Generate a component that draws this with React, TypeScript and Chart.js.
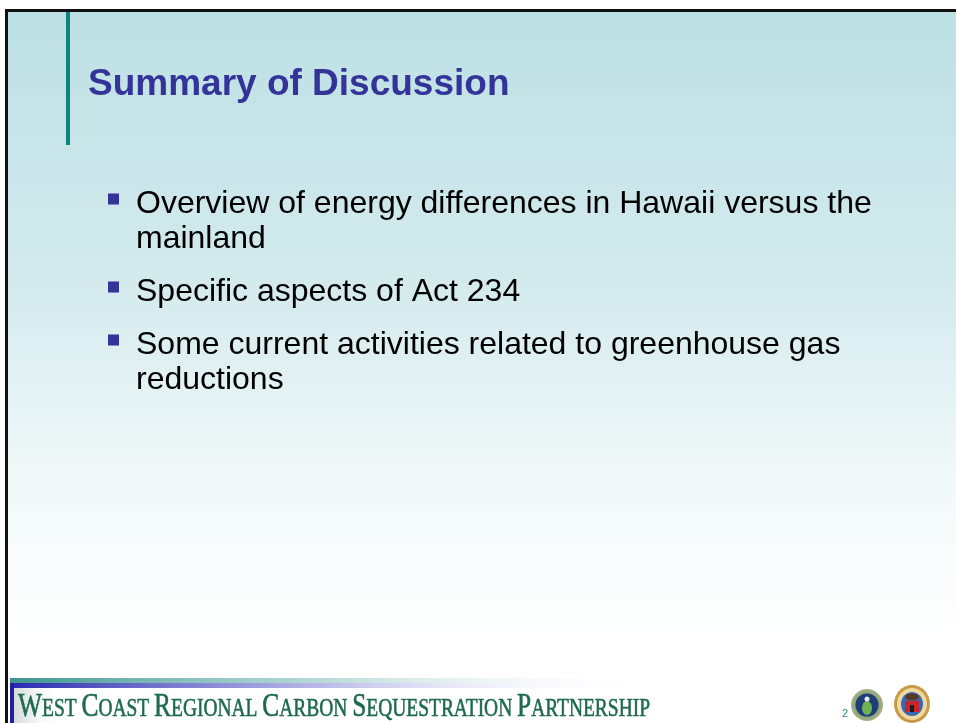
import React, { useEffect, useRef } from "react";
import { Chart, registerables } from "chart.js";

Chart.register(...registerables);

const W = 956;
const H = 723;

// ---- content ----
const titleText = "Summary of Discussion";
const bulletParagraphs: string[][] = [
  ["Overview of energy differences in Hawaii versus the", "mainland"],
  ["Specific aspects of Act 234"],
  ["Some current activities related to greenhouse gas", "reductions"],
];
const footerWords = ["West", "Coast", "Regional", "Carbon", "Sequestration", "Partnership"];
const pageLabel = "2";

// ---- layout (slide units = pixels of the 956x723 slide) ----
const FIRST_BASELINE = 213;
const LINE_GAP = 35;
const PARA_GAP = 53;
const TEXT_X = 136;
const BULLET_X = 113.5;
const BULLET_OFFSET = 14;

type Line = { text: string; y: number; first: boolean };
function buildLines(): Line[] {
  const out: Line[] = [];
  let y = FIRST_BASELINE;
  bulletParagraphs.forEach((p, pi) => {
    if (pi > 0) y += PARA_GAP;
    p.forEach((t, li) => {
      if (li > 0) y += LINE_GAP;
      out.push({ text: t, y, first: li === 0 });
    });
  });
  return out;
}

function drawSmallCaps(
  ctx: CanvasRenderingContext2D,
  words: string[],
  x: number,
  baseline: number,
  targetWidth: number,
  big: number,
  small: number
) {
  const fam = '"Liberation Serif", "Times New Roman", serif';
  const segs: { t: string; size: number }[] = [];
  words.forEach((w, i) => {
    segs.push({ t: w[0].toUpperCase(), size: big });
    segs.push({ t: w.slice(1).toUpperCase(), size: small });
    if (i < words.length - 1) segs.push({ t: " ", size: small });
  });
  let natural = 0;
  segs.forEach((s) => {
    ctx.font = `${s.size}px ${fam}`;
    natural += ctx.measureText(s.t).width;
  });
  const sx = targetWidth / natural;
  ctx.save();
  ctx.translate(x, baseline);
  ctx.scale(sx, 1);
  let cx = 0;
  ctx.textBaseline = "alphabetic";
  ctx.lineWidth = 0.6;
  segs.forEach((s) => {
    ctx.font = `${s.size}px ${fam}`;
    ctx.fillText(s.t, cx, 0);
    ctx.strokeText(s.t, cx, 0);
    cx += ctx.measureText(s.t).width;
  });
  ctx.restore();
}

const backgroundPlugin = {
  id: "slideBackground",
  beforeDraw(chart: any) {
    const ctx: CanvasRenderingContext2D = chart.ctx;
    ctx.save();
    ctx.fillStyle = "#ffffff";
    ctx.fillRect(0, 0, W, H);
    // slide gradient
    const g = ctx.createLinearGradient(0, 11, 0, 640);
    g.addColorStop(0, "#bce0e4");
    g.addColorStop(0.45, "#d5ebee");
    g.addColorStop(0.75, "#f2f9fa");
    g.addColorStop(1, "#ffffff");
    ctx.fillStyle = g;
    ctx.fillRect(8, 11, W - 8, 640);
    // black frame
    ctx.fillStyle = "#111111";
    ctx.fillRect(5, 9, W - 5, 3);
    ctx.fillRect(5, 9, 3, H - 9);
    // teal title bar
    ctx.fillStyle = "#0b8581";
    ctx.fillRect(66, 12, 4, 133);
    // footer bands
    const tg = ctx.createLinearGradient(10, 0, 650, 0);
    tg.addColorStop(0, "rgba(60,148,143,1)");
    tg.addColorStop(0.5, "rgba(140,195,192,0.6)");
    tg.addColorStop(1, "rgba(255,255,255,0)");
    ctx.fillStyle = tg;
    ctx.fillRect(10, 678, 640, 5);
    const bg = ctx.createLinearGradient(10, 0, 650, 0);
    bg.addColorStop(0, "rgba(40,40,175,1)");
    bg.addColorStop(0.35, "rgba(120,120,210,0.8)");
    bg.addColorStop(0.7, "rgba(220,220,245,0.6)");
    bg.addColorStop(1, "rgba(255,255,255,0)");
    ctx.fillStyle = bg;
    ctx.fillRect(10, 683, 640, 5);
    ctx.fillStyle = "#2020a0";
    ctx.fillRect(10, 683, 4, H - 683);
    const gg = ctx.createLinearGradient(14, 0, 62, 0);
    gg.addColorStop(0, "rgba(175,185,185,0.55)");
    gg.addColorStop(1, "rgba(255,255,255,0)");
    ctx.fillStyle = gg;
    ctx.fillRect(14, 688, 48, H - 688);
    ctx.restore();
  },
};

const textPlugin = {
  id: "slideText",
  afterDatasetsDraw(chart: any) {
    const ctx: CanvasRenderingContext2D = chart.ctx;
    const xs = chart.scales.x;
    const ys = chart.scales.y;
    ctx.save();
    ctx.textBaseline = "alphabetic";
    ctx.textAlign = "left";
    // title
    ctx.fillStyle = "#333399";
    ctx.font = 'bold 37px "Liberation Sans", Arial, sans-serif';
    ctx.fillText(titleText, xs.getPixelForValue(88), ys.getPixelForValue(95));
    // bullets
    ctx.fillStyle = "#000000";
    ctx.font = '32px "Liberation Sans", Arial, sans-serif';
    buildLines().forEach((l) => {
      ctx.fillText(l.text, xs.getPixelForValue(TEXT_X), ys.getPixelForValue(l.y));
    });
    // footer
    ctx.fillStyle = "#1e6b4c";
    ctx.strokeStyle = "#1e6b4c";
    drawSmallCaps(ctx, footerWords, xs.getPixelForValue(18), ys.getPixelForValue(716), 632, 34, 26);
    // page number
    ctx.fillStyle = "#2a8a8a";
    ctx.font = '11px "Liberation Sans", Arial, sans-serif';
    ctx.fillText(pageLabel, xs.getPixelForValue(842), ys.getPixelForValue(717));
    // logos
    const doeX = xs.getPixelForValue(867);
    const doeY = ys.getPixelForValue(705);
    const rg = ctx.createRadialGradient(doeX, doeY, 8, doeX, doeY, 16);
    rg.addColorStop(0, "#6f8f6a");
    rg.addColorStop(1, "#a9b486");
    ctx.fillStyle = rg;
    ctx.beginPath();
    ctx.arc(doeX, doeY, 16, 0, Math.PI * 2);
    ctx.fill();
    ctx.fillStyle = "#1d3c78";
    ctx.beginPath();
    ctx.arc(doeX, doeY, 11.5, 0, Math.PI * 2);
    ctx.fill();
    ctx.fillStyle = "#6fb254";
    ctx.beginPath();
    ctx.ellipse(doeX, doeY + 3, 5, 7, 0, 0, Math.PI * 2);
    ctx.fill();
    ctx.fillStyle = "#e8eef0";
    ctx.beginPath();
    ctx.arc(doeX, doeY - 6, 2.5, 0, Math.PI * 2);
    ctx.fill();

    const sX = xs.getPixelForValue(912);
    const sY = ys.getPixelForValue(704);
    ctx.fillStyle = "#c99a45";
    ctx.beginPath();
    ctx.ellipse(sX, sY, 18, 19, 0, 0, Math.PI * 2);
    ctx.fill();
    ctx.fillStyle = "#efd9a0";
    ctx.beginPath();
    ctx.ellipse(sX, sY, 15, 16, 0, 0, Math.PI * 2);
    ctx.fill();
    ctx.fillStyle = "#3a68b8";
    ctx.beginPath();
    ctx.ellipse(sX, sY, 11, 12, 0, 0, Math.PI * 2);
    ctx.fill();
    ctx.fillStyle = "#5a3a20";
    ctx.beginPath();
    ctx.ellipse(sX, sY - 7, 7, 3.5, 0, 0, Math.PI * 2);
    ctx.fill();
    ctx.fillStyle = "#c8262a";
    ctx.fillRect(sX - 7, sY - 3, 14, 11);
    ctx.fillStyle = "#1d1d1d";
    ctx.fillRect(sX - 2, sY + 1, 4, 7);
    ctx.restore();
  },
};

export default function App() {
  const ref = useRef<HTMLCanvasElement | null>(null);
  useEffect(() => {
    if (!ref.current) return;
    const bulletPoints = buildLines()
      .filter((l) => l.first)
      .map((l) => ({ x: BULLET_X, y: l.y - BULLET_OFFSET }));
    const chart = new Chart(ref.current, {
      type: "scatter",
      data: {
        datasets: [
          {
            data: bulletPoints,
            pointStyle: "rect",
            pointRadius: 7.8,
            pointHoverRadius: 7.8,
            backgroundColor: "#333399",
            borderColor: "#333399",
            borderWidth: 0,
            clip: false,
          },
        ],
      },
      options: {
        animation: false,
        responsive: false,
        events: [],
        layout: { padding: 0, autoPadding: false },
        plugins: {
          legend: { display: false },
          tooltip: { enabled: false },
          title: { display: false },
        },
        scales: {
          x: { type: "linear", min: 0, max: W, display: false },
          y: { type: "linear", min: 0, max: H, reverse: true, display: false },
        },
      },
      plugins: [backgroundPlugin, textPlugin],
    } as any);
    return () => chart.destroy();
  }, []);
  return (
    <div style={{ position: "absolute", left: 0, top: 0, width: W, height: H }}>
      <canvas ref={ref} width={W} height={H} style={{ display: "block", width: W, height: H }} />
    </div>
  );
}
